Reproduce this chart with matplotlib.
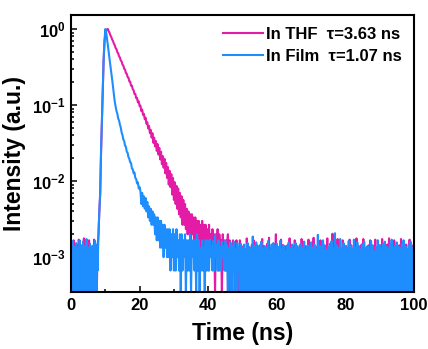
import numpy as np
import matplotlib
matplotlib.use('Agg')
import matplotlib.pyplot as plt
from matplotlib.ticker import FuncFormatter, LogLocator, MultipleLocator

plt.rcParams['font.family'] = ['Liberation Sans', 'DejaVu Sans']
plt.rcParams['font.weight'] = 'bold'
plt.rcParams['mathtext.fontset'] = 'custom'
plt.rcParams['mathtext.rm'] = 'Liberation Sans:bold'
plt.rcParams['mathtext.bf'] = 'Liberation Sans:bold'
plt.rcParams['mathtext.it'] = 'Liberation Sans:bold'

# background-subtracted counts, one channel every 0.25 ns
dt = 0.25

labels = ['In THF  \u03c4=3.63 ns', 'In Film  \u03c4=1.07 ns']
colors = ['#E41BA6', '#1E8EFF']

# ---- In THF ----
thf_pre = [0, 4.1, 1, 5.0, 0, 3.8, 1, 4.3, 0, 5.1, 1, 3.9, 0, 4.2, 2, 5.3,
           0, 4.0, 1, 3.8, 0, 5.0, 1, 4.2, 0, 3.9, 1, 5.1, 0, 4.3, 1, 4.0]
thf_rise = [6, 12, 20, 70, 180, 500, 1150, 2000, 2600, 2900, 2980, 3000]
thf_decay = [2790, 2665, 2470, 2350, 2180, 2080, 1925, 1840,
             1690, 1630, 1490, 1440, 1315, 1270, 1160, 1125,
             1020, 995, 900, 880, 790, 775, 700, 690,
             615, 610, 540, 540, 485, 470, 420, 420,
             370, 372, 325, 335, 290, 295, 250, 262,
             222, 230, 195, 205, 170, 178, 148, 160,
             128, 142, 112, 128, 96, 112, 86, 101,
             75, 92, 67, 82, 58, 73, 50, 64,
             45, 59, 38, 52, 33, 46, 27, 41,
             25, 37, 20, 33, 17, 29, 15, 26,
             13, 24, 11, 21, 10, 19, 8, 17,
             8, 15, 7, 13, 6, 12, 6, 11,
             5, 11, 6, 10, 4, 10, 5, 9,
             4, 9, 5, 8, 3, 9, 4, 8,
             3, 8, 4, 7, 2, 8, 4, 6,
             3, 7, 4, 6, 1, 6, 3, 7,
             2, 6, 4, 5, 1, 6, 3, 5,
             2, 5, 4, 6, 0, 5, 3, 4,
             1, 5, 3, 4, 1, 5, 2, 4,
             0, 5, 1, 4]
thf_tail = [0, 4.2, 1, 3.8, 0, 5.3, 2, 4.1, 0, 3.9, 1, 4.4, 0, 5.0, 1, 3.7, 0, 4.3, 2, 4.0,
            0, 3.9, 1, 5.2, 0, 4.2, 1, 3.8, 0, 4.5, 2, 5.4, 0, 3.9, 1, 4.1, 0, 4.4, 1, 6.0,
            0, 4.1, 1, 3.8, 0, 5.1, 1, 4.3, 0, 3.7, 2, 4.2, 0, 4.4, 1, 5.3, 0, 3.9, 1, 4.2,
            0, 5.0, 1, 4.1, 0, 3.8, 1, 4.3, 0, 5.2, 2, 3.9, 0, 4.2, 1, 4.0, 0, 5.1, 1, 3.8,
            0, 4.3, 2, 5.4, 0, 3.9, 1, 4.1, 0, 4.4, 1, 5.0, 0, 3.8, 2, 4.2, 0, 4.0, 1, 5.3,
            0, 3.9, 1, 4.2, 0, 6.1, 1, 4.0, 0, 3.8, 2, 5.2, 0, 4.3, 1, 3.9, 0, 5.0, 1, 4.1,
            0, 4.2, 1, 3.9, 0, 5.1, 2, 4.3, 0, 3.8, 1, 4.1, 0, 5.3, 1, 4.0, 0, 3.7, 2, 4.4,
            0, 5.2, 1, 3.8, 0, 4.1, 1, 4.3, 0, 5.0, 2, 3.9, 0, 4.2, 1, 5.1, 0, 3.8, 1, 4.0,
            0, 4.3, 2, 5.2, 0, 3.9, 1, 4.1, 0, 4.4, 1, 5.3, 0, 3.8, 1, 4.2, 0, 5.0, 2, 3.9,
            0, 4.1, 1, 4.3, 0, 5.2, 1, 3.9, 0, 4.2, 2, 4.4, 0, 3.8, 1, 5.1, 0, 4.0, 1, 4.3,
            0]

# ---- In Film ----
film_pre = [4.4, 0, 4.9, 1, 4.1, 0, 4.6, 1, 3.9, 0, 5.0, 1, 4.3, 0, 4.8, 2,
            4.2, 0, 5.2, 1, 4.0, 0, 4.5, 1, 4.1, 0, 4.3, 1, 4.9, 0, 4.4, 2]
film_rise = [6, 12, 21, 75, 190, 530, 1200, 2100, 3000]
film_decay = [2670, 2230, 1800, 1480, 1190, 975, 785, 645, 515, 420, 332, 290,
              251, 232, 200, 188, 166, 152, 131, 121,
              106, 101, 88, 85, 73, 71, 62, 59,
              53, 52, 44, 43, 38, 39, 33, 32,
              28, 29, 24, 25,
              22, 15, 21, 14, 19, 13, 18, 12,
              16, 10, 14, 9, 13, 8, 12, 8,
              11, 6, 10, 5, 10, 5, 9, 4,
              9, 4, 8, 3, 8, 4, 7, 3,
              7, 3, 7, 2, 6, 3, 7, 2,
              6, 2, 7, 3, 5, 2, 6, 1,
              6, 2, 5, 3, 6, 1, 5, 2,
              5, 2, 6, 1, 5, 3, 5, 2,
              5, 1, 6, 2, 5, 1, 4, 2,
              5, 2, 4, 1, 5, 2, 5]
film_tail = [4.4, 2, 5.1, 3, 4.2, 2, 4.9, 2, 5.8, 3, 4.3, 2, 5.0, 2, 4.1, 2, 4.8, 3, 4.2, 2,
             4.9, 2, 4.3, 1, 3.9, 2, 4.7, 0, 4.2, 2, 4.8, 1, 3.8, 0, 4.6, 2, 4.1, 1, 4.5, 0,
             4.0, 1, 4.4, 0, 3.7, 1, 4.6, 0, 4.1, 2, 3.8, 0, 5.6, 1, 4.2, 0, 4.7, 1, 3.9, 0,
             4.3, 1, 4.8, 0, 3.8, 1, 4.2, 0, 4.0, 2, 4.9, 0, 3.7, 1, 4.4, 0, 4.6, 1, 4.0, 0,
             4.5, 0, 4.1, 1, 4.9, 0, 3.8, 1, 4.3, 0, 3.6, 2, 4.2, 0, 4.7, 1, 3.9, 0, 4.4, 1,
             3.8, 0, 4.6, 1, 4.2, 0, 3.9, 1, 4.5, 0, 4.0, 2, 4.8, 0, 3.7, 1, 4.3, 0, 4.1, 1,
             4.7, 0, 4.0, 1, 4.4, 0, 3.8, 1, 5.9, 0, 4.2, 1, 3.9, 0, 5.0, 2, 4.3, 0, 3.7, 1,
             4.1, 0, 4.5, 1, 4.9, 0, 3.9, 2, 6.2, 0, 4.3, 1, 4.0, 0, 5.2, 1, 3.8, 0, 4.6, 1,
             4.2, 0, 3.8, 1, 4.9, 0, 4.3, 1, 3.9, 0, 5.1, 2, 4.0, 0, 4.7, 1, 4.2, 0, 3.8, 1,
             4.4, 0, 4.8, 1, 3.9, 0, 4.2, 1, 4.0, 0, 4.9, 1, 4.3, 0, 3.6, 1, 4.1, 0, 5.0, 2,
             4.3, 0, 3.9, 1, 4.5, 0, 4.8, 1, 4.1, 0, 3.8, 1, 4.4, 0, 5.1, 1, 4.0, 0, 4.2, 1,
             4.7, 0, 4.1, 1, 3.9, 0, 4.4, 2, 5.0, 0, 4.2, 1, 3.8, 0, 4.3, 1, 4.8, 0, 4.0, 1,
             4.2]

thf = np.array(thf_pre + thf_rise + thf_decay + thf_tail, dtype=float)
film = np.array(film_pre + film_rise + film_decay + film_tail, dtype=float)

fig = plt.figure(figsize=(4.28, 3.49), dpi=100)
ax = fig.add_axes([0.166, 0.163, 0.801, 0.794])
ax.set_yscale('log', nonpositive='clip')

for counts, c, lab in zip([thf, film], colors, labels):
    t = dt * np.arange(len(counts))
    ax.plot(t, counts / counts.max(), color=c, lw=1.5, label=lab)

ax.set_xlim(0, 100)
ax.set_ylim(3.47e-4, 1.53)
ax.xaxis.set_major_locator(MultipleLocator(20))
ax.xaxis.set_minor_locator(MultipleLocator(10))
ax.yaxis.set_major_locator(LogLocator(base=10, numticks=10))
ax.yaxis.set_minor_locator(LogLocator(base=10, subs=np.arange(2, 10), numticks=10))
ax.yaxis.set_major_formatter(FuncFormatter(lambda v, p: r'$\mathbf{10^{%d}}$' % round(np.log10(v))))

ax.tick_params(which='both', direction='in', top=False, right=False, labelsize=12, width=1.1)
ax.tick_params(which='major', length=4.5, pad=4)
ax.tick_params(which='minor', length=2.5)
for s in ax.spines.values():
    s.set_linewidth(1.5)

ax.set_xlabel('Time (ns)', fontsize=16.5, fontweight='bold', labelpad=7)
ax.set_ylabel('Intensity (a.u.)', fontsize=16.5, fontweight='bold', labelpad=4)

leg = ax.legend(loc='upper right', frameon=False, fontsize=12, handlelength=2.4,
                handletextpad=0.2, labelspacing=0.45, borderaxespad=0.3)

fig.savefig('out.png', dpi=100)
